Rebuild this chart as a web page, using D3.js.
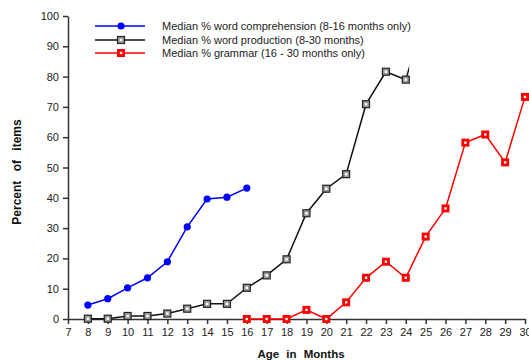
<!DOCTYPE html>
<html>
<head>
<meta charset="utf-8">
<script src="https://cdn.jsdelivr.net/npm/d3@7"></script>
<style>
  body { margin: 0; background: #fff; }
  svg { font-family: "Liberation Sans", Arial, sans-serif; }
  .axis path, .axis line { stroke: #333; stroke-width: 1.5; }
  .axis text { fill: #222; font-size: 11px; }
</style>
</head>
<body>
<svg width="529" height="360"></svg>
<script>
// ages (months)
const compAges = [8, 9, 10, 11, 12, 13, 14, 15, 16];
const compValues = [4.6, 6.7, 10.3, 13.6, 18.9, 30.4, 39.6, 40.2, 43.2];

const prodAges = [8, 9, 10, 11, 12, 13, 14, 15, 16, 17, 18, 19, 20, 21, 22, 23, 24, 25];
const prodValues = [0.1, 0.1, 1, 1, 1.8, 3.4, 5, 5, 10.3, 14.4, 19.7, 34.9, 43, 47.8, 70.9, 81.6, 79, 101];
const prodMarkedUpTo = 24; // markers shown only up to here, line is cut just after

const gramAges = [16, 17, 18, 19, 20, 21, 22, 23, 24, 25, 26, 27, 28, 29, 30];
const gramValues = [0, 0, 0, 3, 0, 5.5, 13.6, 18.9, 13.6, 27.2, 36.5, 58.2, 60.9, 51.7, 73.3];

const xTicks = d3.range(7, 31);
const yTicks = d3.range(0, 101, 10);

const legendLabels = [
  "Median % word comprehension (8-16 months only)",
  "Median % word production (8-30 months)",
  "Median % grammar (16 - 30 months only)"
];

const svg = d3.select("svg");
const area = { left: 68, right: 525, top: 16, bottom: 319 };

const x = d3.scaleLinear().domain([7, 30]).range([area.left, area.right]);
const y = d3.scaleLinear().domain([0, 100]).range([area.bottom, area.top]);

// axes
svg.append("g")
  .attr("class", "axis")
  .attr("transform", `translate(0, ${area.bottom})`)
  .call(d3.axisBottom(x).tickValues(xTicks).tickSize(5).tickSizeOuter(0).tickPadding(4));

svg.append("g")
  .attr("class", "axis")
  .attr("transform", `translate(${area.left}, 0)`)
  .call(d3.axisLeft(y).tickValues(yTicks).tickSize(5).tickSizeOuter(0).tickPadding(4));

svg.append("text")
  .attr("x", 301).attr("y", 358)
  .attr("text-anchor", "middle")
  .style("font-size", "11.5px").style("font-weight", "bold")
  .style("word-spacing", "4px")
  .attr("fill", "#111")
  .text("Age in Months");

svg.append("text")
  .attr("transform", "translate(21, 172) rotate(-90)")
  .attr("text-anchor", "middle")
  .style("font-size", "12px").style("font-weight", "bold")
  .style("word-spacing", "6px")
  .attr("fill", "#111")
  .text("Percent of items");

// clip for the truncated production line
svg.append("clipPath").attr("id", "prodclip")
  .append("rect")
  .attr("x", 0).attr("y", 0)
  .attr("width", x(24.17)).attr("height", 360);

const line = d3.line().x(d => x(d[0])).y(d => y(d[1]));

function zip(a, b) { return a.map((v, i) => [v, b[i]]); }

const comp = zip(compAges, compValues);
const prod = zip(prodAges, prodValues);
const gram = zip(gramAges, gramValues);

svg.append("path").datum(comp).attr("d", line)
  .attr("fill", "none").attr("stroke", "#0000ff").attr("stroke-width", 1.5);
svg.append("path").datum(prod).attr("d", line)
  .attr("clip-path", "url(#prodclip)")
  .attr("fill", "none").attr("stroke", "#111").attr("stroke-width", 1.5);
svg.append("path").datum(gram).attr("d", line)
  .attr("fill", "none").attr("stroke", "#ff0000").attr("stroke-width", 1.5);

function circleMark(g, cx, cy) {
  g.append("circle").attr("cx", cx).attr("cy", cy).attr("r", 3.6).attr("fill", "#0000ff");
}
function graySquare(g, cx, cy) {
  g.append("rect").attr("x", cx - 3.5).attr("y", cy - 3.5).attr("width", 7).attr("height", 7)
    .attr("fill", "#999").attr("stroke", "#222").attr("stroke-width", 1.2);
  g.append("rect").attr("x", cx - 1.2).attr("y", cy - 1.2).attr("width", 2.4).attr("height", 2.4)
    .attr("fill", "#fff");
}
function redSquare(g, cx, cy) {
  g.append("rect").attr("x", cx - 4).attr("y", cy - 4).attr("width", 8).attr("height", 8)
    .attr("fill", "#ff0000");
  g.append("rect").attr("x", cx - 1.2).attr("y", cy - 1.2).attr("width", 2.4).attr("height", 2.4)
    .attr("fill", "#fff");
}

const marks = svg.append("g");
comp.forEach(d => circleMark(marks, x(d[0]), y(d[1])));
prod.filter(d => d[0] <= prodMarkedUpTo).forEach(d => graySquare(marks, x(d[0]), y(d[1])));
gram.forEach(d => redSquare(marks, x(d[0]), y(d[1])));

// legend
const legendColors = ["#0000ff", "#111", "#ff0000"];
const legendMarks = [circleMark, graySquare, redSquare];
const legY = [26, 40, 53];
legendLabels.forEach((label, i) => {
  const g = svg.append("g");
  g.append("line").attr("x1", 95).attr("x2", 145).attr("y1", legY[i]).attr("y2", legY[i])
    .attr("stroke", legendColors[i]).attr("stroke-width", 1.5);
  legendMarks[i](g, 121, legY[i]);
  g.append("text").attr("x", 162).attr("y", legY[i] + 4)
    .style("font-size", "11px").attr("fill", "#222").text(label);
});
</script>
</body>
</html>
